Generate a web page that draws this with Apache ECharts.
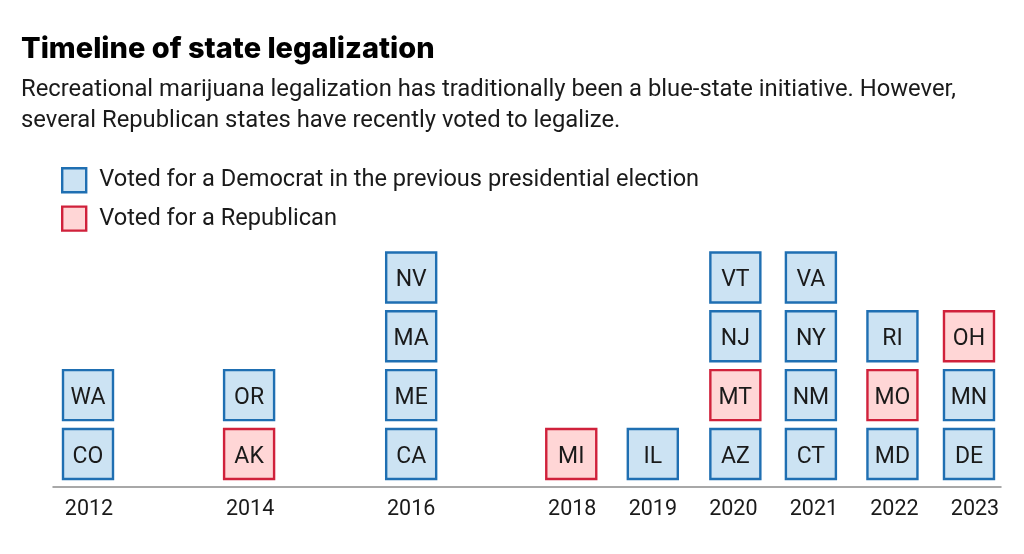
<!DOCTYPE html>
<html>
<head>
<meta charset="utf-8">
<title>Timeline of state legalization</title>
<script src="https://cdn.jsdelivr.net/npm/echarts@6/dist/echarts.min.js"></script>
<style>
    html, body { margin: 0; padding: 0; background: #fff; }
    #chart { width: 1024px; height: 554px; }
</style>
</head>
<body>
<div id="chart"></div>
<script>
// Chart data, bottom tile first in each year
let tick_years = [2012, 2014, 2016, 2018, 2019, 2020, 2021, 2022, 2023];
let state_years = [
    2012, 2012, 2014, 2014, 2016, 2016, 2016, 2016, 2018, 2019,
    2020, 2020, 2020, 2020, 2021, 2021, 2021, 2021, 2022, 2022, 2022,
    2023, 2023, 2023
];
let state_names = [
    "CO", "WA", "AK", "OR", "CA", "ME", "MA", "NV", "MI", "IL",
    "AZ", "MT", "NJ", "VT", "CT", "NM", "NY", "VA", "MD", "MO", "RI",
    "DE", "MN", "OH"
];
// D = voted for a Democrat, R = voted for a Republican
let state_parties = [
    "D", "D", "R", "D", "D", "D", "D", "D", "R", "D",
    "D", "R", "D", "D", "D", "D", "D", "D", "D", "R", "D",
    "D", "D", "R"
];

let legend_dem = "Voted for a Democrat in the previous presidential election";
let legend_rep = "Voted for a Republican";

let font_name = "Roboto";
let text_color = "#1a1a1a";
let dem_style = { color: "#cce3f3", borderColor: "#1f6fb2", borderWidth: 2.4 };
let rep_style = { color: "#ffd6d6", borderColor: "#d0213b", borderWidth: 2.4 };

// The tile columns sit a few pixels off the year labels in the original
let column_nudge = { 2012: -1, 2014: -1, 2016: 0, 2018: -1, 2019: 0, 2020: 2, 2021: -3, 2022: -2, 2023: -6 };

// Stack height of each state inside its year
function get_rows() {
    let seen = {};
    return state_years.map(function (year) {
        seen[year] = (seen[year] || 0) + 1;
        return seen[year] - 1;
    });
}

function get_series_data(party) {
    let rows = get_rows();
    let data = [];
    for (let i = 0; i < state_names.length; i++) {
        if (state_parties[i] === party) {
            data.push({ value: [state_years[i], rows[i]], name: state_names[i] });
        }
    }
    return data;
}

function draw_tile(style, data) {
    return function (params, api) {
        let year = api.value(0);
        let pos = api.coord([year, api.value(1)]);
        let x = pos[0] + column_nudge[year];
        return {
            type: "group",
            children: [{
                type: "rect",
                shape: { x: x - 25, y: pos[1] - 25, width: 50, height: 50 },
                style: { fill: style.color, stroke: style.borderColor, lineWidth: style.borderWidth }
            }, {
                type: "text",
                style: {
                    x: x,
                    y: pos[1] + 3,
                    text: data[params.dataIndex].name,
                    fill: text_color,
                    font: "23px " + font_name,
                    align: "center",
                    verticalAlign: "middle"
                }
            }]
        };
    };
}

function make_series(name, party, style) {
    let data = get_series_data(party);
    return {
        name: name,
        type: "custom",
        coordinateSystem: "cartesian2d",
        itemStyle: style,
        encode: { x: 0, y: 1 },
        data: data,
        renderItem: draw_tile(style, data),
        silent: true
    };
}

let chart = echarts.init(document.getElementById("chart"));

chart.setOption({
    animation: false,
    backgroundColor: "#fff",
    title: [{
        text: "Timeline of state legalization",
        left: 16,
        top: 30,
        textStyle: { fontFamily: "Inter", fontSize: 29, fontWeight: 800, color: "#000" }
    }, {
        text: "Recreational marijuana legalization has traditionally been a blue-state initiative. However,\nseveral Republican states have recently voted to legalize.",
        left: 16,
        top: 70,
        textStyle: { fontFamily: font_name, fontSize: 23.8, fontWeight: "normal", color: text_color, lineHeight: 31 }
    }],
    legend: {
        orient: "vertical",
        left: 56,
        top: 162,
        itemWidth: 24,
        itemHeight: 24,
        itemGap: 12,
        selectedMode: false,
        textStyle: { fontFamily: font_name, fontSize: 23.6, color: text_color, lineHeight: 24, padding: [0, 0, 0, 8] },
        data: [
            { name: legend_dem, icon: "rect", itemStyle: dem_style },
            { name: legend_rep, icon: "rect", itemStyle: rep_style }
        ]
    },
    grid: { left: 53, right: 23, top: 248, height: 239 },
    xAxis: {
        type: "value",
        min: 2011.553,
        max: 2023.323,
        splitLine: { show: false },
        axisTick: { show: false },
        axisLine: { show: true, onZero: false, lineStyle: { color: "#8c8c8c", width: 1.5 } },
        axisLabel: {
            customValues: tick_years,
            formatter: function (value) { return String(value); },
            margin: 12,
            fontFamily: font_name,
            fontSize: 21.5,
            color: text_color
        }
    },
    yAxis: {
        type: "value",
        min: -0.56,
        max: 3.5,
        show: false
    },
    series: [
        make_series(legend_dem, "D", dem_style),
        make_series(legend_rep, "R", rep_style)
    ]
});
</script>
</body>
</html>
